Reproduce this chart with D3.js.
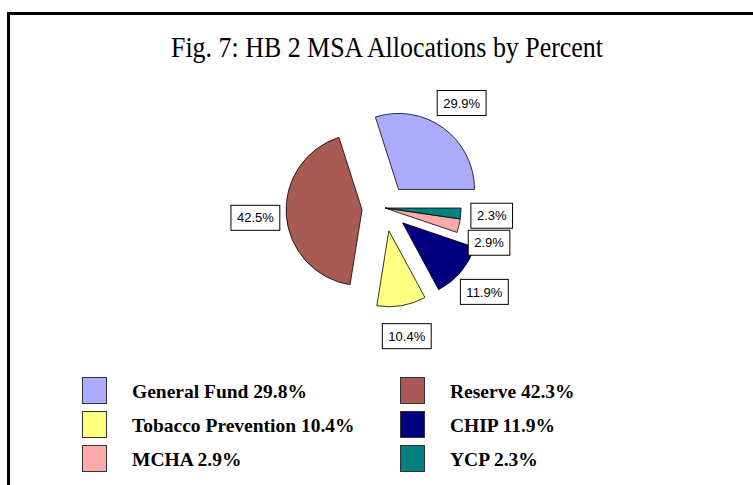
<!DOCTYPE html>
<html>
<head>
<meta charset="utf-8">
<script src="https://cdn.jsdelivr.net/npm/d3@7"></script>
<style>
  body { margin: 0; background: #fff; }
  svg { display: block; }
</style>
</head>
<body>
<div id="chart"></div>
<script>
// data, in legend order
const categories = ["General Fund", "Reserve", "Tobacco Prevention", "CHIP", "MCHA", "YCP"];
const pieValues = [29.9, 42.5, 10.4, 11.9, 2.9, 2.3];      // labels on the slices
const legendValues = [29.8, 42.3, 10.4, 11.9, 2.9, 2.3];   // as printed in the legend
const colors = ["#aaaaff", "#a95a55", "#ffff80", "#000080", "#ffaaaa", "#008080"];
const explodedSlices = ["General Fund", "Reserve", "Tobacco Prevention", "CHIP"];

const width = 753, height = 485;
const cx = 385, cy = 208, radius = 76, explodeDist = 23;

const svg = d3.select("#chart").append("svg")
    .attr("width", width)
    .attr("height", height);

svg.append("rect").attr("width", width).attr("height", height).attr("fill", "#fff");

// frame: only left and top edges are visible in the crop
svg.append("path")
    .attr("d", `M8.5,${height} V13.5 H${width}`)
    .attr("fill", "none")
    .attr("stroke", "#000")
    .attr("stroke-width", 3);

// original title is a narrow Times face, squeeze it to the same width
svg.append("text")
    .attr("x", 387)
    .attr("y", 57)
    .attr("text-anchor", "middle")
    .attr("textLength", 432)
    .attr("lengthAdjust", "spacingAndGlyphs")
    .style("font-family", "'Liberation Serif', 'Times New Roman', serif")
    .style("font-size", "29px")
    .text("Fig. 7: HB 2 MSA Allocations by Percent");

// pie runs counter-clockwise from 3 o'clock
const pie = d3.pie()
    .sort(null)
    .value(d => d.value)
    .startAngle(Math.PI / 2)
    .endAngle(Math.PI / 2 - 2 * Math.PI);

const rows = categories.map((c, i) => ({ name: c, value: pieValues[i], color: colors[i] }));
const arcs = pie(rows);
const arc = d3.arc().innerRadius(0).outerRadius(radius);

const g = svg.append("g").attr("transform", `translate(${cx},${cy})`);

arcs.forEach(a => {
    const mid = (a.startAngle + a.endAngle) / 2;
    a.off = explodedSlices.includes(a.data.name) ? explodeDist : 0;
    a.dx = Math.sin(mid) * a.off;
    a.dy = -Math.cos(mid) * a.off;
    const lr = a.off + radius + 31;
    a.lx = Math.sin(mid) * lr;
    a.ly = -Math.cos(mid) * lr;
});

g.selectAll("path.slice")
    .data(arcs)
    .enter().append("path")
    .attr("class", "slice")
    .attr("transform", d => `translate(${d.dx},${d.dy})`)
    .attr("d", arc)
    .attr("fill", d => d.data.color)
    .attr("stroke", "#000")
    .attr("stroke-width", 0.8);

// push overlapping labels apart vertically (per side)
const boxH = 25;
["right", "left"].forEach(side => {
    const list = arcs.filter(a => side === "right" ? a.lx >= 0 : a.lx < 0)
        .sort((a, b) => a.ly - b.ly);
    for (let i = 1; i < list.length; i++) {
        if (list[i].ly - list[i - 1].ly < boxH + 2) list[i].ly = list[i - 1].ly + boxH + 2;
    }
});

const labels = g.selectAll("g.label")
    .data(arcs)
    .enter().append("g")
    .attr("class", "label")
    .attr("transform", d => `translate(${d.lx},${d.ly})`);

labels.append("text")
    .attr("text-anchor", "middle")
    .attr("dy", "0.36em")
    .style("font-family", "'Liberation Sans', Arial, sans-serif")
    .style("font-size", "13px")
    .text(d => d.data.value.toFixed(1) + "%");

labels.each(function() {
    const t = d3.select(this).select("text");
    const w = t.node().getComputedTextLength() + 12;
    d3.select(this).insert("rect", "text")
        .attr("x", -w / 2)
        .attr("y", -boxH / 2)
        .attr("width", w)
        .attr("height", boxH)
        .attr("fill", "#fff")
        .attr("stroke", "#000")
        .attr("stroke-width", 1);
});

// legend, two columns
const legendX = [82, 400];
const legendY = 377;
const rowStep = 34;

const legend = svg.append("g").selectAll("g")
    .data(categories)
    .enter().append("g")
    .attr("transform", (d, i) => `translate(${legendX[i % 2]},${legendY + Math.floor(i / 2) * rowStep})`);

legend.append("rect")
    .attr("x", 0.5)
    .attr("y", 0.5)
    .attr("width", 24)
    .attr("height", 26)
    .attr("fill", (d, i) => colors[i])
    .attr("stroke", "#333")
    .attr("stroke-width", 1);

legend.append("text")
    .attr("x", 50)
    .attr("y", 21)
    .style("font-family", "'Liberation Serif', 'Times New Roman', serif")
    .style("font-size", "19.5px")
    .style("font-weight", "bold")
    .text((d, i) => `${d} ${legendValues[i]}%`);
</script>
</body>
</html>
